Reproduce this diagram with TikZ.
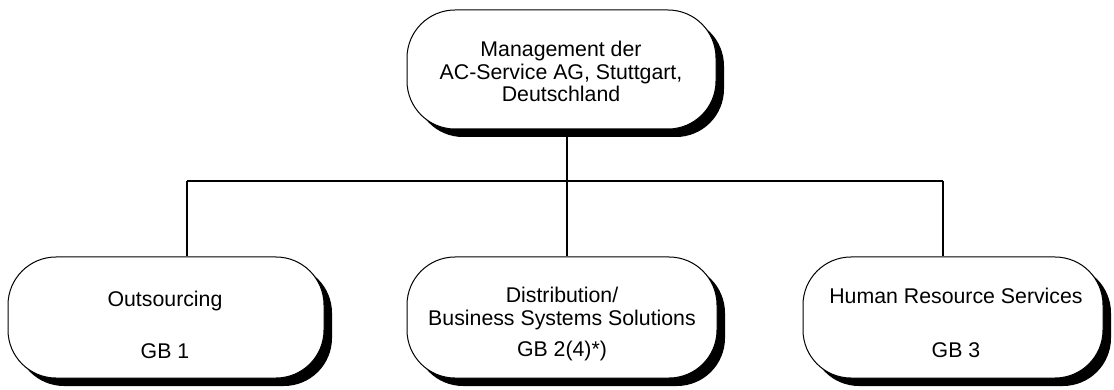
\documentclass[tikz,border=0pt]{standalone}
\usepackage{fontspec}
\setmainfont{Liberation Sans}
\usetikzlibrary{shadows}
\begin{document}
\begin{tikzpicture}[x=1pt,y=-1pt,
  box/.style={draw=black, line width=1pt, fill=white, rounded corners=48pt,
    minimum width=#1, minimum height=121pt, inner sep=0pt,
    drop shadow={shadow xshift=8pt, shadow yshift=-8pt, opacity=1, fill=black}},
  txt/.style={font=\fontsize{21.3pt}{22.5pt}\selectfont, anchor=base, inner sep=0pt},
  conn/.style={draw=black, line width=1.4pt}]
\useasboundingbox (0,0) rectangle (1114,390);
% connector junctions
\coordinate (jl) at (187,181);
\coordinate (jm) at (567,181);
\coordinate (jr) at (943,181);
% boxes
\node[box=309pt, minimum height=119pt] (top) at (561.5,69.5) {};
\node[box=316pt] (lb) at (166,317.5) {};
\node[box=310pt] (mb) at (562,317.5) {};
\node[box=300pt] (rb) at (953,317.5) {};
% connectors
\draw[conn] (top.south -| jm) -- (jm);
\draw[conn] (jl) -- (jr);
\draw[conn] (jl) -- (jl |- lb.north);
\draw[conn] (jm) -- (jm |- mb.north);
\draw[conn] (jr) -- (jr |- rb.north);
% texts
\node[txt] (t1) at (561,57) {Management der};
\node[txt] (t2) at (561,79.5) {AC-Service AG, Stuttgart,};
\node[txt] (t3) at (561,102) {Deutschland};
\node[txt] (l1) at (165,306) {Outsourcing};
\node[txt] (l2) at (165,358) {GB 1};
\node[txt] (m1) at (562,302.5) {Distribution/};
\node[txt] (m2) at (562,325) {Business Systems Solutions};
\node[txt] (m3) at (562,356.5) {GB 2(4)*)};
\node[txt] (r1) at (956,303) {Human Resource Services};
\node[txt] (r2) at (956,357) {GB 3};
\end{tikzpicture}
\end{document}
